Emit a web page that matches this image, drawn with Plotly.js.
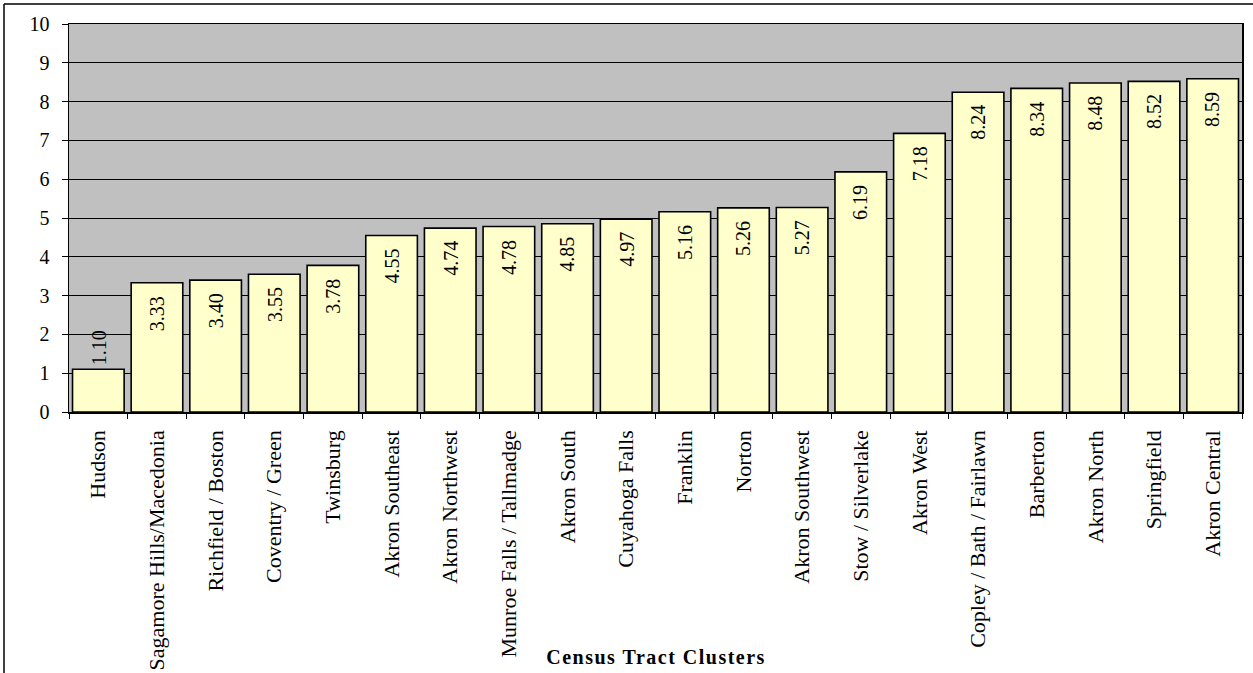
<!DOCTYPE html>
<html>
<head>
<meta charset="utf-8">
<script src="https://cdn.plot.ly/plotly-3.0.1.min.js"></script>
<style>
html,body{margin:0;padding:0;background:#fff;}
#chart{width:1253px;height:673px;}
</style>
</head>
<body>
<div id="chart"></div>
<script>
var categories = ["Hudson","Sagamore Hills/Macedonia","Richfield / Boston","Coventry / Green","Twinsburg","Akron Southeast","Akron Northwest","Munroe Falls / Tallmadge","Akron South","Cuyahoga Falls","Franklin","Norton","Akron Southwest","Stow / Silverlake","Akron West","Copley / Bath / Fairlawn","Barberton","Akron North","Springfield","Akron Central"];
var values = [1.10,3.33,3.40,3.55,3.78,4.55,4.74,4.78,4.85,4.97,5.16,5.26,5.27,6.19,7.18,8.24,8.34,8.48,8.52,8.59];
var labels = values.map(function(v){return v.toFixed(2);});
var xTitle = "Census Tract Clusters";

var serif = "Liberation Serif";

var trace = {
  type: "bar",
  x: categories,
  y: values,
  marker: {color: "#ffffcc", line: {color: "#000", width: 1.6}},
  hoverinfo: "x+y"
};

var annotations = values.map(function(v, i){
  var outside = v < 2;
  return {
    x: categories[i], y: v, xref: "x", yref: "y",
    text: labels[i], showarrow: false, textangle: -90,
    yanchor: outside ? "bottom" : "top",
    yshift: outside ? 2 : -11,
    font: {family: serif, size: 20, color: "#000"}
  };
});
annotations.push({
  text: "<b>" + xTitle + "</b>", xref: "paper", yref: "paper",
  x: 0.5, y: (412 - 657) / 388, xanchor: "center", yanchor: "middle",
  showarrow: false, font: {family: serif, size: 20, color: "#000"}
});

var layout = {
  width: 1253, height: 673,
  margin: {l: 69, r: 11, t: 24, b: 261},
  paper_bgcolor: "#fff",
  plot_bgcolor: "#c0c0c0",
  bargap: 0.12,
  showlegend: false,
  font: {family: serif, color: "#000"},
  xaxis: {
    type: "category",
    tickangle: -90,
    tickfont: {family: serif, size: 22, color: "#000"},
    ticks: "outside", ticklen: 5, tickcolor: "#000", tickson: "boundaries",
    ticklabelstandoff: 8,
    showline: true, linecolor: "#000", linewidth: 1.5, mirror: true,
    showgrid: false, automargin: false
  },
  yaxis: {
    range: [0, 10], dtick: 1, tick0: 0,
    tickfont: {family: serif, size: 20, color: "#000"},
    ticks: "outside", ticklen: 6, tickcolor: "#000",
    ticklabelstandoff: 8,
    showline: true, linecolor: "#000", linewidth: 1.5, mirror: true,
    showgrid: true, gridcolor: "#000", gridwidth: 1,
    zeroline: false, automargin: false
  },
  annotations: annotations,
  shapes: [
    {type: "line", xref: "paper", yref: "paper",
     x0: (4 - 69) / 1173, x1: (4 - 69) / 1173, y0: (412 - 4) / 388, y1: (412 - 680) / 388,
     line: {color: "#000", width: 1.5}},
    {type: "line", xref: "paper", yref: "paper",
     x0: (4 - 69) / 1173, x1: (1260 - 69) / 1173, y0: (412 - 4) / 388, y1: (412 - 4) / 388,
     line: {color: "#000", width: 1.5}}
  ]
};

Plotly.newPlot("chart", [trace], layout, {displayModeBar: false, staticPlot: true}).then(function(){
  var anns = document.querySelectorAll(".annotation-text");
  var last = anns[anns.length - 1];
  if (last) last.style.letterSpacing = "1.5px";
});
</script>
</body>
</html>
